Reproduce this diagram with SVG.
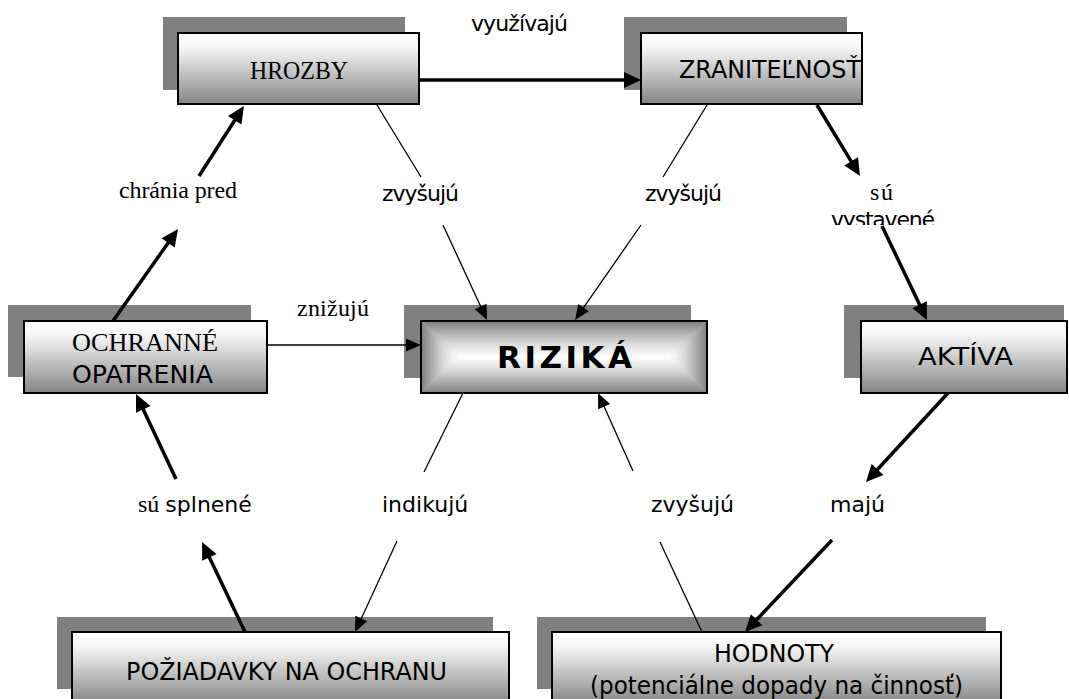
<svg xmlns="http://www.w3.org/2000/svg" width="1069" height="699" viewBox="0 0 1069 699">
<style>
.shadow{fill:#808080}
.box{fill:url(#gv);stroke:#000;stroke-width:2}
.frame{fill:none;stroke:#000;stroke-width:2}
.sans{font-family:"DejaVu Sans",Verdana,sans-serif;font-size:22px;fill:#000}
.serif{font-family:"Liberation Serif","Times New Roman",serif;font-size:24px;fill:#000}
.thick{fill:none;stroke:#000;stroke-width:3.5;marker-end:url(#ahk)}
.thickn{fill:none;stroke:#000;stroke-width:3.5}
.thin{fill:none;stroke:#000;stroke-width:1.3;marker-end:url(#aht)}
.thinn{fill:none;stroke:#000;stroke-width:1.3}
</style>
<defs>
<linearGradient id="gv" x1="0" y1="0" x2="0" y2="1">
<stop offset="0" stop-color="#ffffff"/>
<stop offset="0.2" stop-color="#f6f6f6"/>
<stop offset="1" stop-color="#858585"/>
</linearGradient>
<linearGradient id="rt" gradientUnits="userSpaceOnUse" x1="0" y1="321" x2="0" y2="357">
<stop offset="0" stop-color="#7f7f7f"/><stop offset="0.6" stop-color="#d6d6d6"/><stop offset="1" stop-color="#ffffff"/>
</linearGradient>
<linearGradient id="rb" gradientUnits="userSpaceOnUse" x1="0" y1="393" x2="0" y2="357">
<stop offset="0" stop-color="#7f7f7f"/><stop offset="0.6" stop-color="#d6d6d6"/><stop offset="1" stop-color="#ffffff"/>
</linearGradient>
<linearGradient id="rl" gradientUnits="userSpaceOnUse" x1="421" y1="0" x2="457" y2="0">
<stop offset="0" stop-color="#7f7f7f"/><stop offset="0.6" stop-color="#d6d6d6"/><stop offset="1" stop-color="#ffffff"/>
</linearGradient>
<linearGradient id="rr" gradientUnits="userSpaceOnUse" x1="707" y1="0" x2="671" y2="0">
<stop offset="0" stop-color="#7f7f7f"/><stop offset="0.6" stop-color="#d6d6d6"/><stop offset="1" stop-color="#ffffff"/>
</linearGradient>
<marker id="ahk" markerUnits="userSpaceOnUse" viewBox="0 0 17 16" markerWidth="17" markerHeight="16" refX="12" refY="8" orient="auto" overflow="visible">
<path d="M0,0 L17,8 L0,16 z" fill="#000"/>
</marker>
<marker id="aht" markerUnits="userSpaceOnUse" viewBox="0 0 15 13" markerWidth="15" markerHeight="13" refX="11" refY="6.5" orient="auto" overflow="visible">
<path d="M0,0 L15,6.5 L0,13 z" fill="#000"/>
</marker>
<clipPath id="clipv"><rect x="800" y="200" width="160" height="25"/></clipPath>
</defs>

<g id="node-hrozby">
<rect class="shadow" x="163" y="17" width="242" height="73"/>
<rect class="box" x="178" y="33" width="241" height="71"/>
<text class="serif" x="250" y="79" style="font-size:26px" textLength="98" lengthAdjust="spacingAndGlyphs">HROZBY</text>
</g>

<g id="node-zranitelnost">
<rect class="shadow" x="624" y="17" width="223" height="73"/>
<rect class="box" x="641" y="33" width="221" height="71"/>
<text class="sans" x="679" y="78" style="font-size:24px" textLength="182" lengthAdjust="spacingAndGlyphs">ZRANITEĽNOSŤ</text>
</g>

<g id="node-ochranne">
<rect class="shadow" x="8" y="305" width="243" height="72"/>
<rect class="box" x="24" y="321" width="243" height="72"/>
<text class="serif" x="72" y="351" style="font-size:26px" textLength="146" lengthAdjust="spacingAndGlyphs">OCHRANNÉ</text>
<text class="sans" x="72" y="383" style="font-size:24px" textLength="141" lengthAdjust="spacingAndGlyphs">OPATRENIA</text>
</g>

<g id="node-rizika">
<rect class="shadow" x="404" y="305" width="287" height="73"/>
<rect x="421" y="321" width="286" height="72" fill="#bdbdbd"/>
<polygon points="421,321 707,321 671,357 457,357" fill="url(#rt)"/>
<polygon points="421,393 707,393 671,357 457,357" fill="url(#rb)"/>
<polygon points="421,321 457,357 421,393" fill="url(#rl)"/>
<polygon points="707,321 671,357 707,393" fill="url(#rr)"/>
<rect class="frame" x="421" y="321" width="286" height="72"/>
<text class="sans" x="497" y="368" style="font-size:31px;font-weight:bold" textLength="135" lengthAdjust="spacing">RIZIKÁ</text>
</g>

<g id="node-aktiva">
<rect class="shadow" x="844" y="305" width="220" height="73"/>
<rect class="box" x="861" y="321" width="206" height="72"/>
<text class="sans" x="918" y="365" style="font-size:24px" textLength="95" lengthAdjust="spacingAndGlyphs">AKTÍVA</text>
</g>

<g id="node-poziadavky">
<rect class="shadow" x="57" y="617" width="436" height="72"/>
<rect class="box" x="72" y="632" width="437" height="72"/>
<text class="sans" x="126" y="680" style="font-size:24px" textLength="321" lengthAdjust="spacingAndGlyphs">POŽIADAVKY NA OCHRANU</text>
</g>

<g id="node-hodnoty">
<rect class="shadow" x="537" y="617" width="449" height="72"/>
<rect class="box" x="552" y="632" width="449" height="72"/>
<text class="sans" x="714" y="662" style="font-size:24px" textLength="120" lengthAdjust="spacingAndGlyphs">HODNOTY</text>
<text class="sans" x="590" y="694" style="font-size:24px" textLength="373" lengthAdjust="spacingAndGlyphs">(potenciálne dopady na činnosť)</text>
</g>

<g id="connectors">
<line class="thick" x1="419" y1="80" x2="636" y2="80"/>
<line class="thick" x1="817" y1="105" x2="857.4" y2="171.7"/>
<line class="thick" x1="882" y1="226" x2="924.8" y2="315.5"/>
<line class="thick" x1="113" y1="321" x2="175.1" y2="233.1"/>
<line class="thick" x1="199" y1="176" x2="241.2" y2="110.2"/>
<line class="thick" x1="245" y1="632" x2="204.2" y2="546.5"/>
<line class="thick" x1="176" y1="479" x2="138.1" y2="398.5"/>
<line class="thick" x1="948" y1="393" x2="869.4" y2="478.3"/>
<line class="thick" x1="832" y1="540" x2="748.4" y2="628.4"/>
<line class="thinn" x1="377" y1="105" x2="421" y2="177"/>
<line class="thin" x1="443" y1="225" x2="485.3" y2="316.4"/>
<line class="thinn" x1="707" y1="105" x2="663" y2="177"/>
<line class="thin" x1="641" y1="225" x2="577.3" y2="316.7"/>
<line class="thin" x1="267" y1="345" x2="417" y2="345"/>
<line class="thinn" x1="463" y1="393" x2="424" y2="472"/>
<line class="thin" x1="397" y1="541" x2="356.7" y2="628.4"/>
<line class="thinn" x1="702" y1="632" x2="660" y2="542"/>
<line class="thin" x1="633" y1="471" x2="599.6" y2="396.6"/>
</g>

<g id="labels">
<text class="sans" x="471" y="31" textLength="97">využívajú</text>
<text class="serif" x="119" y="198" textLength="118">chránia pred</text>
<text class="sans" x="382" y="201" textLength="77">zvyšujú</text>
<text class="sans" x="645" y="201" textLength="77">zvyšujú</text>
<text class="serif" x="870" y="200" textLength="23">sú</text>
<text class="sans" x="831" y="227" textLength="104" clip-path="url(#clipv)">vystavené</text>
<text class="serif" x="297" y="316" textLength="72">znižujú</text>
<text x="138" y="512"><tspan class="serif">sú </tspan><tspan class="sans">splnené</tspan></text>
<text class="sans" x="382" y="512">indikujú</text>
<text class="sans" x="651" y="512">zvyšujú</text>
<text class="sans" x="830" y="512">majú</text>
</g>
</svg>
